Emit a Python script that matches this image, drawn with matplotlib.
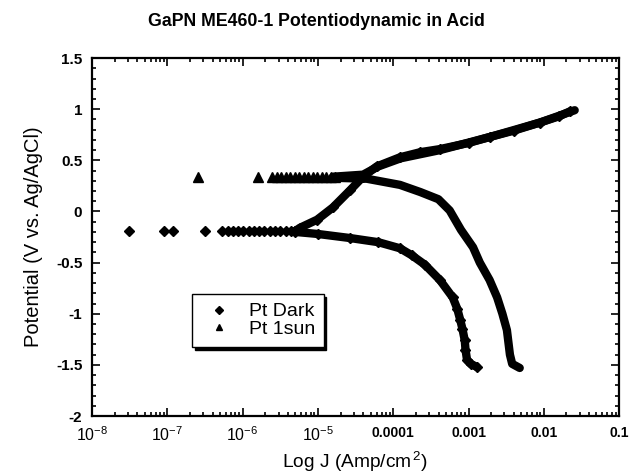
import numpy as np
import matplotlib
matplotlib.use('Agg')
import matplotlib.pyplot as plt
from matplotlib.ticker import MultipleLocator, LogLocator, NullFormatter
from matplotlib.lines import Line2D

plt.rcParams['font.family'] = ['Liberation Sans', 'DejaVu Sans']
plt.rcParams['mathtext.fontset'] = 'custom'
plt.rcParams['mathtext.rm'] = 'Liberation Sans'
plt.rcParams['mathtext.default'] = 'regular'

# --- data (log10 of current density, potential in V vs Ag/AgCl) ---
# Pt Dark: isolated points near open circuit
dark_pts_logj = [-7.51, -7.04, -6.92, -6.50]
dark_pts_v = [-0.19, -0.19, -0.19, -0.19]
# Pt Dark: dense markers of the flat part
dark_flat_logj = [-6.27, -6.20, -6.13, -6.06, -5.99, -5.92, -5.85, -5.78, -5.71,
                  -5.64, -5.57, -5.50, -5.43, -5.36, -5.30]
dark_flat_v = [-0.19, -0.19, -0.19, -0.19, -0.19, -0.19, -0.19, -0.19, -0.19,
               -0.19, -0.19, -0.19, -0.19, -0.19, -0.19]
# Pt Dark: cathodic branch
dark_cath_logj = [-2.89, -2.97, -3.02, -3.04, -3.05, -3.08, -3.11, -3.15, -3.21,
                  -3.38, -3.58, -3.75, -3.91, -4.20, -4.57, -5.00, -5.30]
dark_cath_v = [-1.52, -1.49, -1.45, -1.35, -1.26, -1.15, -1.06, -0.95, -0.84,
               -0.67, -0.52, -0.43, -0.36, -0.30, -0.26, -0.22, -0.20]
# Pt Dark: anodic branch
dark_anod_logj = [-5.30, -5.24, -5.01, -4.80, -4.57, -4.40, -4.22, -3.91, -3.64,
                  -3.38, -3.00, -2.71, -2.40, -2.05, -1.80, -1.65]
dark_anod_v = [-0.19, -0.16, -0.08, 0.04, 0.21, 0.34, 0.44, 0.53, 0.58,
               0.61, 0.67, 0.73, 0.79, 0.87, 0.93, 0.98]

# Pt 1sun: isolated points
sun_pts_logj = [-6.59, -5.80]
sun_pts_v = [0.34, 0.34]
# Pt 1sun: dense markers of the flat part
sun_flat_logj = [-5.61, -5.55, -5.49, -5.43, -5.37, -5.31, -5.25, -5.19, -5.13,
                 -5.07, -5.01, -4.95, -4.89, -4.83, -4.77]
sun_flat_v = [0.34, 0.34, 0.34, 0.34, 0.34, 0.34, 0.34, 0.34, 0.34,
              0.34, 0.34, 0.34, 0.34, 0.34, 0.34]
# Pt 1sun: cathodic branch
sun_cath_logj = [-2.32, -2.42, -2.45, -2.47, -2.49, -2.55, -2.62, -2.72, -2.85,
                 -2.94, -3.10, -3.25, -3.40, -3.64, -3.91, -4.35, -4.80]
sun_cath_v = [-1.53, -1.49, -1.40, -1.28, -1.16, -1.00, -0.84, -0.67, -0.50,
              -0.35, -0.18, 0.01, 0.12, 0.19, 0.26, 0.32, 0.33]
# Pt 1sun: anodic branch
sun_anod_logj = [-4.80, -4.40, -4.20, -3.90, -3.38, -2.71, -2.05, -1.59]
sun_anod_v = [0.34, 0.36, 0.44, 0.52, 0.60, 0.73, 0.87, 0.99]

xtick_vals = [1e-8, 1e-7, 1e-6, 1e-5, 1e-4, 1e-3, 1e-2, 1e-1]
xtick_labels = ['$10^{-8}$', '$10^{-7}$', '$10^{-6}$', '$10^{-5}$',
                '0.0001', '0.001', '0.01', '0.1']
ytick_vals = [-2, -1.5, -1, -0.5, 0, 0.5, 1, 1.5]
ytick_labels = ['-2', '-1.5', '-1', '-0.5', '0', '0.5', '1', '1.5']


def tj(a):
    return np.power(10.0, np.asarray(a))


fig = plt.figure(figsize=(6.32, 4.76), dpi=100)
ax = fig.add_axes([0.1456, 0.126, 0.834, 0.752])

band = dict(color='black', lw=6, solid_capstyle='round', solid_joinstyle='round')
for lj, v in [(dark_cath_logj, dark_cath_v), (dark_anod_logj, dark_anod_v),
              (sun_cath_logj, sun_cath_v), (sun_anod_logj, sun_anod_v)]:
    ax.plot(tj(lj), v, **band)

ax.plot(tj(dark_cath_logj), dark_cath_v, 'kD', ms=5.5, ls='none')
ax.plot(tj(dark_anod_logj), dark_anod_v, 'kD', ms=5.5, ls='none')
ax.plot(tj(dark_flat_logj), dark_flat_v, 'kD', ms=5.5, ls='none')
ax.plot(tj(dark_pts_logj), dark_pts_v, 'kD', ms=5.5, ls='none')
ax.plot(tj(sun_flat_logj), sun_flat_v, 'k^', ms=7, ls='none')
ax.plot(tj(sun_pts_logj), sun_pts_v, 'k^', ms=7, ls='none')

ax.set_xscale('log')
ax.set_xlim(1e-8, 0.1)
ax.set_ylim(-2, 1.5)

ax.set_xticks(xtick_vals)
ax.set_xticklabels(xtick_labels)
ax.xaxis.set_minor_locator(LogLocator(base=10, subs=np.arange(2, 10), numticks=20))
ax.xaxis.set_minor_formatter(NullFormatter())
ax.set_yticks(ytick_vals)
ax.set_yticklabels(ytick_labels)
ax.yaxis.set_minor_locator(MultipleLocator(0.1))

ax.tick_params(which='both', direction='in', top=True, right=True, width=1.2)
ax.tick_params(which='major', length=6)
ax.tick_params(which='minor', length=3)
ax.tick_params(axis='x', which='major', pad=7, labelsize=11.5)
ax.tick_params(axis='y', which='major', pad=7, labelsize=11)
for lab in ax.get_yticklabels():
    lab.set_fontweight('bold')
for lab in ax.get_xticklabels()[4:]:
    lab.set_fontweight('bold')
    lab.set_fontsize(10)
for s in ax.spines.values():
    s.set_linewidth(1.6)

ax.set_xlabel('Log J (Amp/cm$^{\\,2}$)', fontsize=13.8)
ax.set_ylabel('Potential (V vs. Ag/AgCl)', fontsize=14.5)
ax.yaxis.set_label_coords(-0.093, 0.5)
fig.text(0.5, 0.955, 'GaPN ME460-1 Potentiodynamic in Acid', ha='center', va='center',
         fontsize=12.8, fontweight='bold')

handles = [Line2D([], [], color='black', marker='D', ms=4, ls='none'),
           Line2D([], [], color='black', marker='^', ms=5, ls='none')]
leg = ax.legend(handles, ['Pt Dark', 'Pt 1sun'], loc='upper left',
                bbox_to_anchor=(0.19, 0.3408), borderaxespad=0,
                fontsize=14, frameon=True, fancybox=False, edgecolor='black',
                shadow={'color': 'black', 'alpha': 1}, handlelength=1.9,
                handletextpad=0.55, labelspacing=0.0, borderpad=0.45)
leg.get_frame().set_linewidth(1.0)

fig.savefig('out.png', dpi=100)
